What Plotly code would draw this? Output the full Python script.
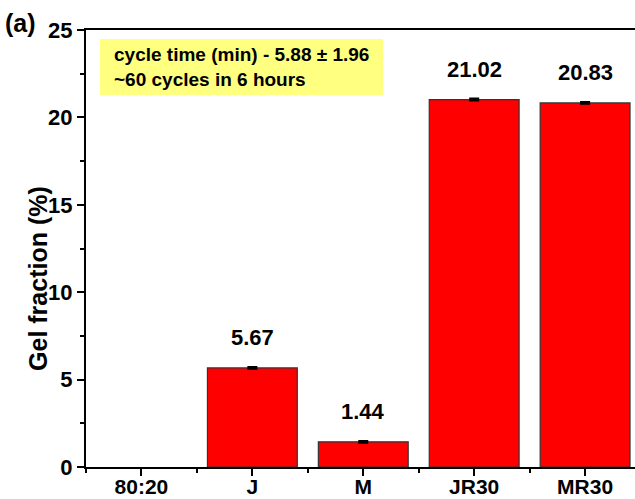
import plotly.graph_objects as go

categories = ["80:20", "J", "M", "JR30", "MR30"]
values = [0.0, 5.67, 1.44, 21.02, 20.83]
errors = [0.0, 0.05, 0.05, 0.06, 0.05]
labels = ["", "5.67", "1.44", "21.02", "20.83"]
y_ticks = [0, 5, 10, 15, 20, 25]

FONT = "Liberation Sans, Arial, sans-serif"
xpos = list(range(len(categories)))
# a zero-height bar draws nothing in the reference
plot_vals = [v if v != 0 else None for v in values]
plot_errs = [e if v != 0 else None for v, e in zip(values, errors)]

fig = go.Figure()
fig.add_trace(go.Bar(
    x=xpos, y=plot_vals, width=0.81,
    marker=dict(color="#FF0000", line=dict(color="#333333", width=1.2)),
    error_y=dict(type="data", array=plot_errs, color="black", thickness=2, width=5),
    showlegend=False,
))

for xi, v, lab in zip(xpos, values, labels):
    if lab:
        fig.add_annotation(x=xi, y=v, text=lab, showarrow=False, yshift=30,
                           font=dict(family=FONT, size=22, color="black", weight="bold"))

fig.add_annotation(xref="paper", yref="paper", x=-0.152, y=1.0, xanchor="left", yanchor="middle",
                   yshift=7, text="(a)", showarrow=False,
                   font=dict(family=FONT, size=25, color="black", weight="bold"))

# y-axis title (placed slightly below centre, as in the reference)
fig.add_annotation(xref="paper", yref="paper", x=-0.0875, y=0.4325, xanchor="center", yanchor="middle",
                   text="Gel fraction (%)", textangle=-90, showarrow=False,
                   font=dict(family=FONT, size=25, color="black", weight="bold"))

# yellow info box
fig.add_shape(type="rect", xref="paper", yref="paper",
              x0=0.0255, x1=0.541, y0=0.8513, y1=0.9794,
              fillcolor="#FFFF80", line=dict(width=0), layer="above")
fig.add_annotation(xref="paper", yref="paper", x=0.0474, y=0.9153, xanchor="left", yanchor="middle",
                   align="left", showarrow=False,
                   text="cycle time (min) - 5.88 ± 1.96<br>~60 cycles in 6 hours",
                   font=dict(family=FONT, size=19, color="black", weight="bold"))

fig.update_layout(
    width=635, height=499,
    margin=dict(l=86, r=0, t=30, b=32),
    paper_bgcolor="white", plot_bgcolor="white",
)
fig.update_xaxes(
    range=[-0.5, 4.45], tickvals=xpos, ticktext=categories,
    showline=True, linecolor="black", linewidth=2, mirror=True,
    ticks="outside", ticklen=7, tickwidth=1.5, tickcolor="black",
    minor=dict(tick0=0.5, dtick=1, ticks="outside", ticklen=4, tickwidth=1.5, tickcolor="black"),
    showgrid=False, zeroline=False, automargin=False,
    ticklabelstandoff=-7,
    tickfont=dict(family=FONT, size=21, color="black", weight="bold"),
)
fig.update_yaxes(
    range=[0, 25], tickvals=y_ticks,
    showline=True, linecolor="black", linewidth=2, mirror=False,
    ticks="outside", ticklen=7, tickwidth=1.5, tickcolor="black",
    minor=dict(dtick=2.5, ticks="outside", ticklen=4, tickwidth=1.5, tickcolor="black"),
    showgrid=False, zeroline=False, automargin=False,
    tickfont=dict(family=FONT, size=22, color="black", weight="bold"),
)

fig.write_html("out.html")
